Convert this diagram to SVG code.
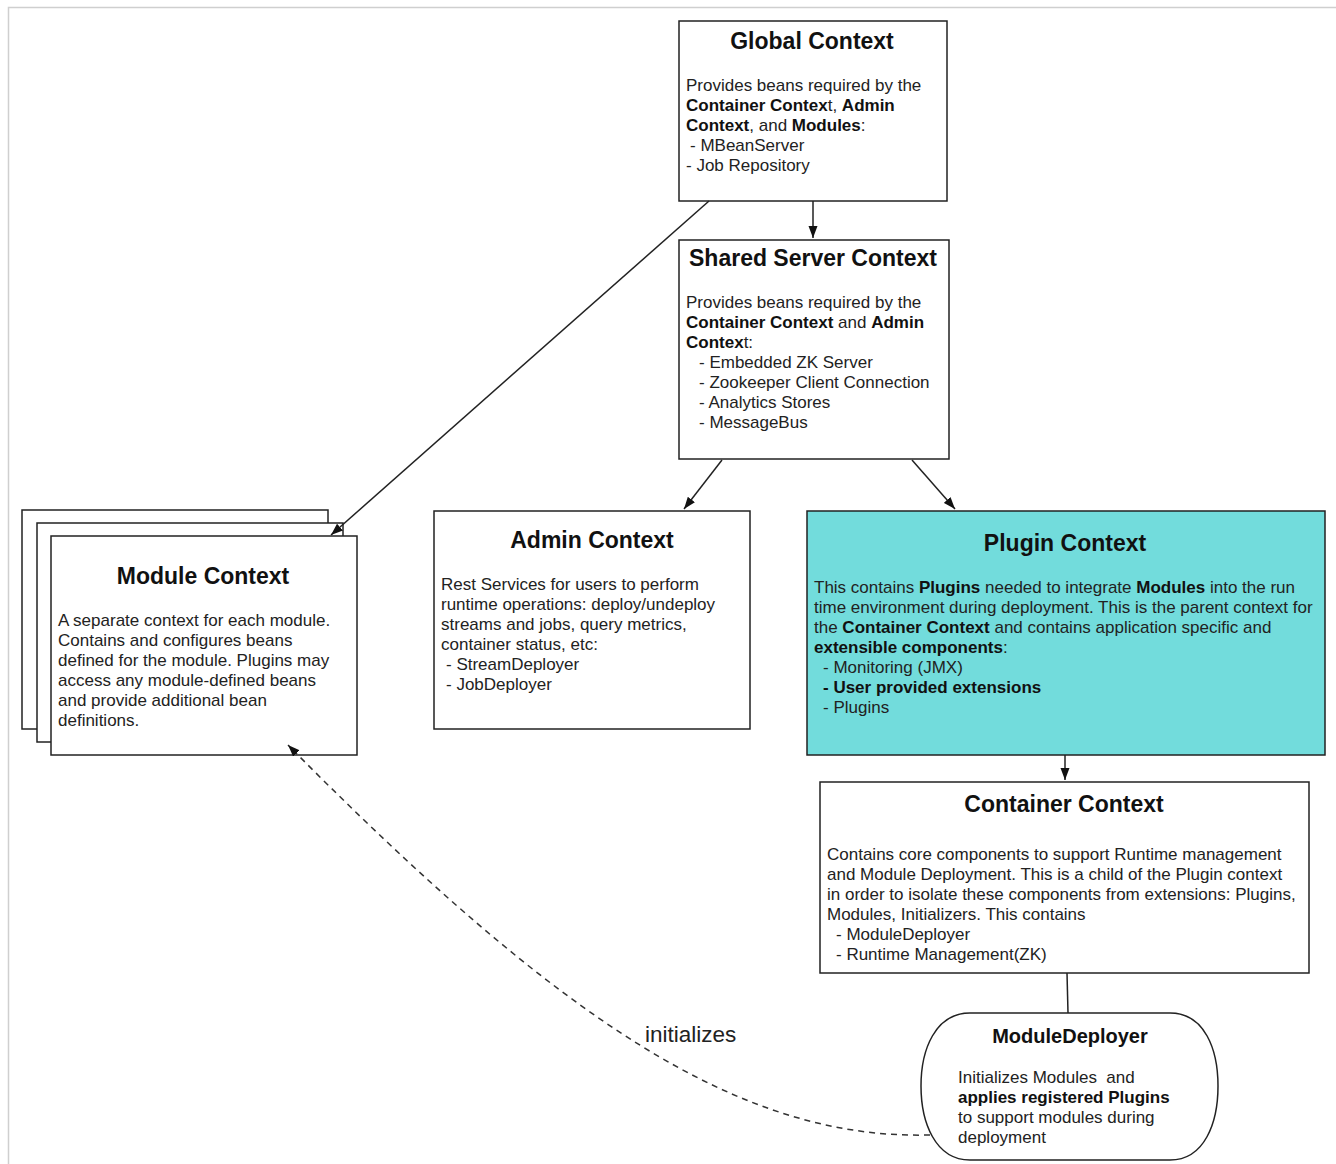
<svg xmlns="http://www.w3.org/2000/svg" width="1336" height="1164" viewBox="0 0 1336 1164">
<defs>
<style>
.box{fill:#fff;stroke:#222;stroke-width:1.5}
.t{font-family:"Liberation Sans",Arial,sans-serif;font-size:23px;font-weight:bold;fill:#111;text-anchor:middle}
.b{font-family:"Liberation Sans",Arial,sans-serif;font-size:17px;fill:#222}
.bb{font-weight:bold;fill:#111}
.c{fill:none;stroke:#222;stroke-width:1.5}
.d{fill:none;stroke:#333;stroke-width:1.5;stroke-dasharray:6 5}
.lbl{font-family:"Liberation Sans",Arial,sans-serif;font-size:22.5px;fill:#222}
</style>
<marker id="ah" viewBox="0 0 12 10" refX="12" refY="5" markerWidth="12" markerHeight="10" markerUnits="userSpaceOnUse" orient="auto">
<path d="M0,0.5 L12,5 L0,9.5 Z" fill="#111"/>
</marker>
</defs>
<rect width="1336" height="1164" fill="#fff"/>
<path d="M8.5,1164 V7.5 H1336" fill="none" stroke="#cfcfcf" stroke-width="1.5"/>

<g id="global-context">
<rect class="box" x="679" y="21" width="268" height="180"/>
<text class="t" x="812" y="49">Global Context</text>
<text class="b" x="686" y="91">Provides beans required by the</text>
<text class="b" x="686" y="111"><tspan class="bb">Container Contex</tspan>t, <tspan class="bb">Admin</tspan></text>
<text class="b" x="686" y="131"><tspan class="bb">Context</tspan>, and <tspan class="bb">Modules</tspan>:</text>
<text class="b" x="690" y="151">- MBeanServer</text>
<text class="b" x="686" y="171">- Job Repository</text>
</g>

<g id="shared-server-context">
<rect class="box" x="679" y="240" width="270" height="219"/>
<text class="t" x="813" y="266">Shared Server Context</text>
<text class="b" x="686" y="308">Provides beans required by the</text>
<text class="b" x="686" y="328"><tspan class="bb">Container Context</tspan> and <tspan class="bb">Admin</tspan></text>
<text class="b" x="686" y="348"><tspan class="bb">Contex</tspan>t:</text>
<text class="b" x="699" y="368">- Embedded ZK Server</text>
<text class="b" x="699" y="388">- Zookeeper Client Connection</text>
<text class="b" x="699" y="408">- Analytics Stores</text>
<text class="b" x="699" y="428">- MessageBus</text>
</g>

<g id="module-context">
<rect class="box" x="22" y="510" width="306" height="219"/>
<rect class="box" x="37" y="523" width="306" height="219"/>
<rect class="box" x="51" y="536" width="306" height="219"/>
<text class="t" x="203" y="584">Module Context</text>
<text class="b" x="58" y="626">A separate context for each module.</text>
<text class="b" x="58" y="646">Contains and configures beans</text>
<text class="b" x="58" y="666">defined for the module. Plugins may</text>
<text class="b" x="58" y="686">access any module-defined beans</text>
<text class="b" x="58" y="706">and provide additional bean</text>
<text class="b" x="58" y="726">definitions.</text>
</g>

<g id="admin-context">
<rect class="box" x="434" y="511" width="316" height="218"/>
<text class="t" x="592" y="548">Admin Context</text>
<text class="b" x="441" y="590">Rest Services for users to perform</text>
<text class="b" x="441" y="610">runtime operations: deploy/undeploy</text>
<text class="b" x="441" y="630">streams and jobs, query metrics,</text>
<text class="b" x="441" y="650">container status, etc:</text>
<text class="b" x="446" y="670">- StreamDeployer</text>
<text class="b" x="446" y="690">- JobDeployer</text>
</g>

<g id="plugin-context">
<rect class="box" x="807" y="511" width="518" height="244" style="fill:#72dcdc"/>
<text class="t" x="1065" y="551">Plugin Context</text>
<text class="b" x="814" y="593">This contains <tspan class="bb">Plugins</tspan> needed to integrate <tspan class="bb">Modules</tspan> into the run</text>
<text class="b" x="814" y="613">time environment during deployment. This is the parent context for</text>
<text class="b" x="814" y="633">the <tspan class="bb">Container Context</tspan> and contains application specific and</text>
<text class="b" x="814" y="653"><tspan class="bb">extensible components</tspan>:</text>
<text class="b" x="823" y="673">- Monitoring (JMX)</text>
<text class="b bb" x="823" y="693">- User provided extensions</text>
<text class="b" x="823" y="713">- Plugins</text>
</g>

<g id="container-context">
<rect class="box" x="820" y="782" width="489" height="191"/>
<text class="t" x="1064" y="812">Container Context</text>
<text class="b" x="827" y="860">Contains core components to support Runtime management</text>
<text class="b" x="827" y="880">and Module Deployment. This is a child of the Plugin context</text>
<text class="b" x="827" y="900">in order to isolate these components from extensions: Plugins,</text>
<text class="b" x="827" y="920">Modules, Initializers. This contains</text>
<text class="b" x="836" y="940">- ModuleDeployer</text>
<text class="b" x="836" y="960">- Runtime Management(ZK)</text>
</g>

<g id="module-deployer">
<path class="box" d="M970,1013 H1170 C1205,1013 1218,1050 1218,1086 C1218,1122 1205,1160 1170,1160 H970 C935,1160 921,1122 921,1086 C921,1050 935,1013 970,1013 Z"/>
<text class="t" x="1070" y="1043" style="font-size:20px">ModuleDeployer</text>
<text class="b" x="958" y="1083">Initializes Modules&#160; and</text>
<text class="b bb" x="958" y="1103">applies registered Plugins</text>
<text class="b" x="958" y="1123">to support modules during</text>
<text class="b" x="958" y="1143">deployment</text>
</g>

<g id="connectors">
<line class="c" x1="813" y1="201" x2="813" y2="238" marker-end="url(#ah)"/>
<line class="c" x1="709" y1="201" x2="331" y2="535" marker-end="url(#ah)"/>
<line class="c" x1="722" y1="460" x2="684" y2="509" marker-end="url(#ah)"/>
<line class="c" x1="912" y1="460" x2="955" y2="509" marker-end="url(#ah)"/>
<line class="c" x1="1065" y1="755" x2="1065" y2="780" marker-end="url(#ah)"/>
<line class="c" x1="1067" y1="973" x2="1068" y2="1013"/>
<path class="d" d="M930,1135 C740,1140 560,1020 288,745" marker-end="url(#ah)"/>
<text class="lbl" x="645" y="1042">initializes</text>
</g>
</svg>
